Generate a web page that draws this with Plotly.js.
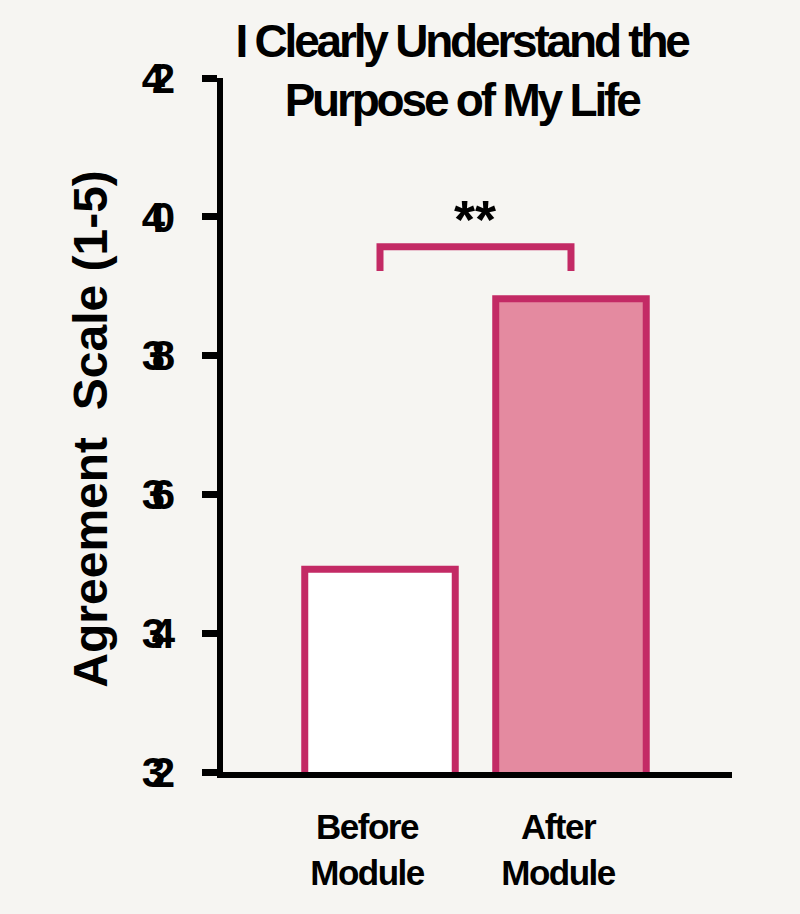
<!DOCTYPE html>
<html>
<head>
<meta charset="utf-8">
<script src="https://cdn.plot.ly/plotly-3.0.1.min.js"></script>
<style>
html,body{margin:0;padding:0;background:#f6f5f2;}
#chart .gtitle{letter-spacing:-3.2px;}
#chart .ytick text{letter-spacing:-12.5px;}
#chart .xtick text{letter-spacing:-1.5px;}
</style>
</head>
<body>
<div id="chart" style="width:800px;height:914px;"></div>
<script>
const categories = ["Before<br>Module", "After<br>Module"];
const values = [3.492, 3.882];
const barFills = ["#ffffff", "#e48aa0"];
const tickVals = [3.2, 3.4, 3.6, 3.8, 4.0, 4.2];
const tickText = ["3.2", "3.4", "3.6", "3.8", "4.0", "4.2"];
const yTitle = "Agreement  Scale (1-5)";
const bracketX = [0, 0, 1, 1];
const bracketY = [3.922, 3.957, 3.957, 3.922];
const sigLabel = "**";
const sigX = 0.5;
const sigY = 3.997;

const magenta = "#c32a65";
const font = "Liberation Sans, Arial, Helvetica, sans-serif";

const traces = [
  {
    type: "bar",
    x: [0, 1],
    y: values,
    width: 0.788,
    marker: {color: barFills, line: {color: magenta, width: 7}},
    hoverinfo: "none"
  },
  {
    type: "scatter",
    mode: "lines",
    x: bracketX,
    y: bracketY,
    line: {color: magenta, width: 7},
    cliponaxis: false,
    hoverinfo: "none"
  }
];

const layout = {
  width: 800, height: 914,
  paper_bgcolor: "#f6f5f2",
  plot_bgcolor: "#f6f5f2",
  showlegend: false,
  margin: {l: 223, r: 68, t: 78, b: 142},
  font: {family: font, color: "#000"},
  title: {
    text: "<b>I Clearly Understand the<br>Purpose of My Life</b>",
    font: {family: font, size: 46, color: "#000"},
    x: 0.577, xanchor: "center",
    y: 0.938, yanchor: "top", yref: "container"
  },
  xaxis: {
    range: [-0.822, 1.843],
    tickmode: "array",
    tickvals: [0, 1],
    ticktext: categories.map(c => "<b>" + c + "</b>"),
    tickfont: {family: font, size: 35, color: "#000"},
    showline: true, linecolor: "#000", linewidth: 6,
    ticks: "", showgrid: false, zeroline: false,
    ticklabelstandoff: 19,
    ticklabelshift: -13
  },
  yaxis: {
    range: [3.2, 4.2],
    tickmode: "array",
    tickvals: tickVals,
    ticktext: tickText.map(t => "<b>" + t + "</b>"),
    tickfont: {family: font, size: 42, color: "#000"},
    showline: true, linecolor: "#000", linewidth: 6,
    ticks: "outside", ticklen: 15, tickwidth: 7, tickcolor: "#000",
    ticklabelstandoff: 31,
    showgrid: false, zeroline: false
  },
  annotations: [
    {
      x: sigX, y: sigY, xref: "x", yref: "y",
      text: "<b>" + sigLabel + "</b>",
      showarrow: false,
      font: {family: font, size: 54, color: "#000"},
      xanchor: "center", yanchor: "middle"
    },
    {
      x: -0.2603, y: 0.494, xref: "paper", yref: "paper",
      text: "<b>" + yTitle + "</b>",
      textangle: -90,
      showarrow: false,
      font: {family: font, size: 48, color: "#000"},
      xanchor: "center", yanchor: "middle"
    }
  ]
};

Plotly.newPlot("chart", traces, layout, {displayModeBar: false, staticPlot: true});
</script>
</body>
</html>
